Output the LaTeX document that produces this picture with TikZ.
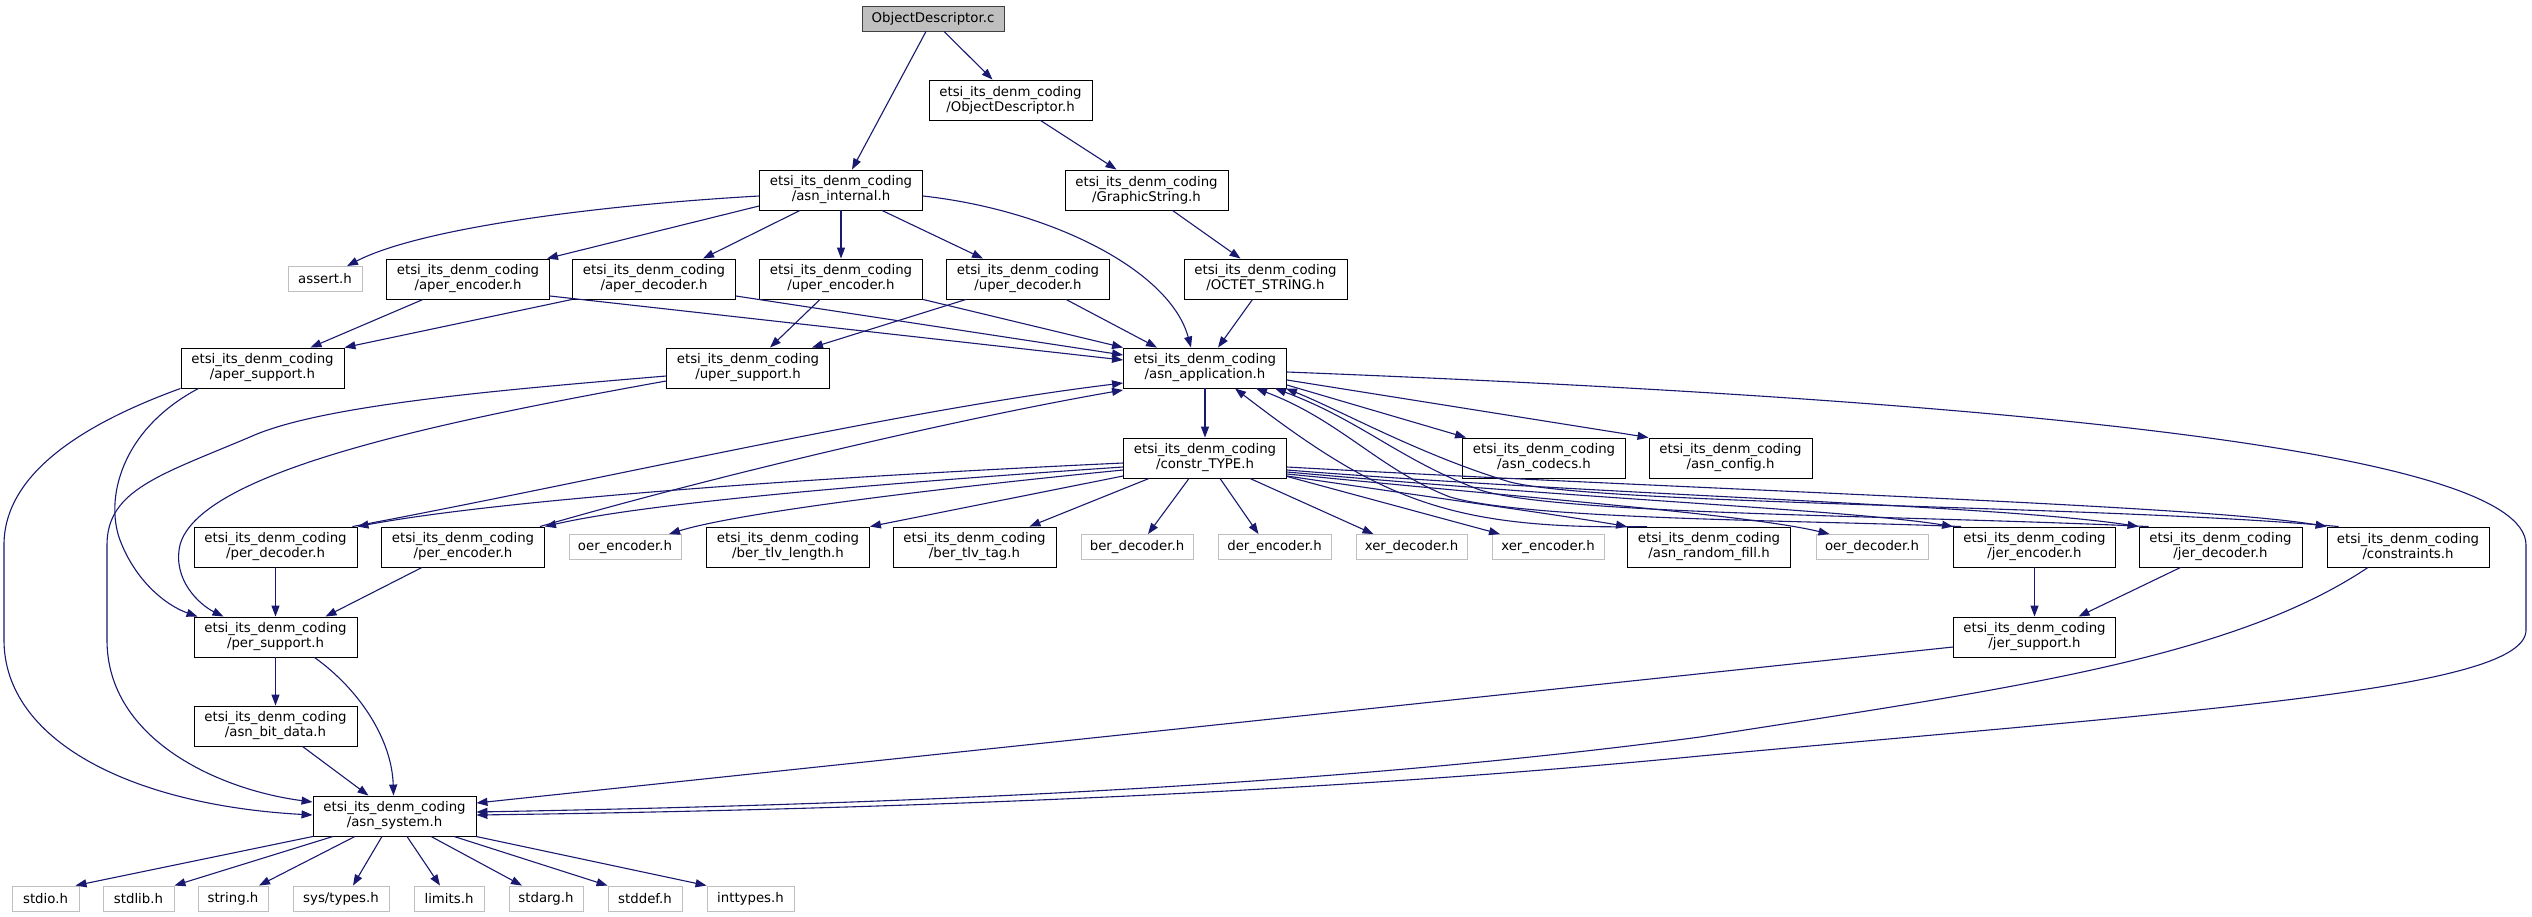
\documentclass[tikz,border=0pt]{standalone}
\usepackage{fontspec}
\setmainfont{DejaVu Sans}
\usetikzlibrary{arrows.meta,calc}
\definecolor{edgecol}{HTML}{191970}
\definecolor{sysgray}{HTML}{BFBFBF}
\definecolor{rootborder}{HTML}{404040}
\begin{document}
\begin{tikzpicture}[x=1pt,y=-1pt,
  font=\fontsize{13.3}{15}\selectfont,
  hdr/.style={draw=black, fill=white, line width=0.9pt, inner sep=0pt, align=center, minimum width=163pt, minimum height=40pt},
  sysh/.style={draw=sysgray, fill=white, line width=0.9pt, inner sep=0pt, minimum height=25pt},
  rootbox/.style={draw=rootborder, fill=sysgray, line width=0.9pt, inner sep=0pt, minimum height=25pt},
  edge/.style={draw=edgecol, line width=1.1pt, -{Triangle[length=11pt,width=8pt]}, edgecol}]
\fill[white] (0,0) rectangle (2532,916);
\useasboundingbox (0,0) rectangle (2532,916);
\def\ed{etsi\_its\_denm\_coding}
% row 0-2
\node[rootbox, minimum width=142pt] (odc) at (933,18.5) {ObjectDescriptor.c};
\node[hdr] (odh) at (1010.5,100) {\ed\\/ObjectDescriptor.h};
\node[hdr] (aint) at (841,190) {\ed\\/asn\_internal.h};
\node[hdr] (gstr) at (1146.5,190) {\ed\\/GraphicString.h};
% row 3
\node[sysh, minimum width=74pt] (assert) at (325,279) {assert.h};
\node[hdr] (aenc) at (468,279) {\ed\\/aper\_encoder.h};
\node[hdr] (adec) at (654,279) {\ed\\/aper\_decoder.h};
\node[hdr] (uenc) at (841,279) {\ed\\/uper\_encoder.h};
\node[hdr] (udec) at (1028,279) {\ed\\/uper\_decoder.h};
\node[hdr] (octet) at (1265.5,279) {\ed\\/OCTET\_STRING.h};
% row 4
\node[hdr] (asup) at (262.5,368) {\ed\\/aper\_support.h};
\node[hdr] (usup) at (748,368) {\ed\\/uper\_support.h};
\node[hdr] (aapp) at (1205,368) {\ed\\/asn\_application.h};
% row 5
\node[hdr] (ctype) at (1205,458) {\ed\\/constr\_TYPE.h};
\node[hdr] (codecs) at (1544,458) {\ed\\/asn\_codecs.h};
\node[hdr] (config) at (1730.5,458) {\ed\\/asn\_config.h};
% row 6
\node[hdr] (pdec) at (275.5,547) {\ed\\/per\_decoder.h};
\node[hdr] (penc) at (463,547) {\ed\\/per\_encoder.h};
\node[sysh, minimum width=112pt] (oenc) at (625,547) {oer\_encoder.h};
\node[hdr] (btlen) at (788,547) {\ed\\/ber\_tlv\_length.h};
\node[hdr] (btag) at (974.5,547) {\ed\\/ber\_tlv\_tag.h};
\node[sysh, minimum width=112pt] (bdec) at (1137,547) {ber\_decoder.h};
\node[sysh, minimum width=113pt] (denc) at (1274.5,547) {der\_encoder.h};
\node[sysh, minimum width=111pt] (xdec) at (1411.5,547) {xer\_decoder.h};
\node[sysh, minimum width=112pt] (xenc) at (1548,547) {xer\_encoder.h};
\node[hdr] (rfill) at (1709,547) {\ed\\/asn\_random\_fill.h};
\node[sysh, minimum width=112pt] (odec) at (1872,547) {oer\_decoder.h};
\node[hdr, minimum width=162pt] (jenc) at (2034.5,547) {\ed\\/jer\_encoder.h};
\node[hdr] (jdec) at (2220.5,547) {\ed\\/jer\_decoder.h};
\node[hdr, minimum width=162pt] (cons) at (2408,547) {\ed\\/constraints.h};
% rows 7-9
\node[hdr] (psup) at (275.5,637) {\ed\\/per\_support.h};
\node[hdr, minimum width=162pt] (jsup) at (2034.5,637) {\ed\\/jer\_support.h};
\node[hdr] (bitd) at (275.5,726) {\ed\\/asn\_bit\_data.h};
\node[hdr] (asys) at (394.5,816) {\ed\\/asn\_system.h};
% row 10
\node[sysh, minimum width=67pt] (stdio) at (45.5,898.5) {stdio.h};
\node[sysh, minimum width=71pt] (stdlib) at (138.5,898.5) {stdlib.h};
\node[sysh, minimum width=70pt] (string) at (233,898.5) {string.h};
\node[sysh, minimum width=96pt] (systypes) at (341,898.5) {sys/types.h};
\node[sysh, minimum width=70pt] (limits) at (449,898.5) {limits.h};
\node[sysh, minimum width=74pt] (stdarg) at (546,898.5) {stdarg.h};
\node[sysh, minimum width=74pt] (stddef) at (645,898.5) {stddef.h};
\node[sysh, minimum width=87pt] (inttypes) at (750.5,898.5) {inttypes.h};

% top edges
\draw[edge] ($(odc.south)+(-7,0)$) -- ($(aint.north)+(11,0)$);
\draw[edge] ($(odc.south)+(11,0)$) -- ($(odh.north)+(-18,0)$);
\draw[edge] ($(odh.south)+(30,0)$) -- ($(gstr.north)+(-30,0)$);
\draw[edge] ($(gstr.south)+(26,0)$) -- ($(octet.north)+(-25,0)$);
\draw[edge] ($(octet.south)+(-13,0)$) -- ($(aapp.north)+(13,0)$);
% asn_internal
\draw[edge] ($(aint.west)+(0,6)$) .. controls (600,205) and (420,228) .. ($(assert.north)+(22,0)$);
\draw[edge] ($(aint.west)+(0,16)$) -- ($(aenc.north east)+(-3,0)$);
\draw[edge] ($(aint.south)+(-41,0)$) -- ($(adec.north)+(49,0)$);
\draw[edge] (aint.south) -- (uenc.north);
\draw[edge] ($(aint.south)+(41,0)$) -- ($(udec.north)+(-45,0)$);
\draw[edge] ($(aint.east)+(0,6)$) .. controls (1050,210) and (1170,270) .. ($(aapp.north)+(-14,0)$);
% row 3 edges
\draw[edge] ($(aenc.south)+(-45,0)$) -- ($(asup.north)+(48,0)$);
\draw[edge] ($(aenc.east)+(0,17)$) -- ($(aapp.west)+(0,-8)$);
\draw[edge] (adec.south west) -- (asup.north east);
\draw[edge] ($(adec.east)+(0,17)$) -- ($(aapp.west)+(0,-13)$);
\draw[edge] ($(uenc.south)+(-21,0)$) -- ($(usup.north)+(22,0)$);
\draw[edge] (uenc.south east) -- (aapp.north west);
\draw[edge] ($(udec.south)+(-62,0)$) -- ($(usup.north east)+(-18,0)$);
\draw[edge] ($(udec.south)+(38,0)$) -- ($(aapp.north)+(-48,0)$);
% aper_support
\draw[edge] (asup.south west) .. controls (80,425) and (4,475) .. (4,545) -- (4,640) .. controls (4,740) and (130,805) .. ($(asys.west)+(0,-1)$);
\draw[edge] ($(asup.south west)+(18,0)$) .. controls (120,430) and (105,500) .. (120,540) .. controls (135,580) and (165,605) .. ($(psup.north west)+(4,0)$);
% uper_support
\draw[edge] ($(usup.west)+(0,8)$) .. controls (500,390) and (320,405) .. (250,437) .. controls (160,475) and (107,490) .. (107,545) -- (107,640) .. controls (107,740) and (220,790) .. ($(asys.west)+(0,-14)$);
\draw[edge] ($(usup.west)+(0,13)$) .. controls (450,420) and (200,470) .. (180,545) .. controls (172,580) and (200,605) .. ($(psup.north)+(-52,0)$);
% per
\draw[edge] (pdec.south) -- (psup.north);
\draw[edge] ($(penc.south)+(-41,0)$) -- ($(psup.north)+(50,0)$);
\draw[edge] (psup.south) -- (bitd.north);
\draw[edge] ($(psup.south)+(39,0)$) .. controls (360,690) and (392,740) .. ($(asys.north)+(-1,0)$);
\draw[edge] ($(bitd.south)+(27,0)$) -- ($(asys.north)+(-26,0)$);
\draw[edge] ($(pdec.north east)+(-5,0)$) .. controls (600,480) and (900,410) .. ($(aapp.west)+(0,15)$);
\draw[edge] ($(penc.north east)+(-5,0)$) .. controls (700,480) and (950,420) .. ($(aapp.west)+(0,22)$);
% asn_system
\draw[edge] ($(asys.south)+(-81.5,0)$) -- ($(stdio.north)+(30,0)$);
\draw[edge] ($(asys.south)+(-61.5,0)$) -- (stdlib.north east);
\draw[edge] ($(asys.south)+(-39.5,0)$) -- ($(string.north)+(26,0)$);
\draw[edge] ($(asys.south)+(-12.5,0)$) -- ($(systypes.north)+(12,0)$);
\draw[edge] ($(asys.south)+(12.5,0)$) -- ($(limits.north)+(-9,0)$);
\draw[edge] ($(asys.south)+(36.5,0)$) -- ($(stdarg.north)+(-24,0)$);
\draw[edge] ($(asys.south)+(59.5,0)$) -- (stddef.north west);
\draw[edge] ($(asys.south)+(81.5,0)$) -- (inttypes.north west);
% asn_application
\draw[edge] (aapp.south) -- (ctype.north);
\draw[edge] ($(aapp.east)+(0,17)$) -- ($(codecs.north west)+(4,0)$);
\draw[edge] ($(aapp.east)+(0,12)$) -- (config.north west);
\draw[edge] ($(aapp.east)+(0,4)$) .. controls (2000,400) and (2526,450) .. (2526,545) -- (2526,630) .. controls (2526,690) and (2200,710) .. (1700,756) .. controls (1300,795) and (850,810) .. ($(asys.east)+(0,-1)$);
% jer
\draw[edge] (jenc.south) -- (jsup.north);
\draw[edge] ($(jdec.south)+(-40,0)$) -- ($(jsup.north)+(44,0)$);
\draw[edge] ($(jsup.west)+(0,10)$) -- ($(asys.east)+(0,-13)$);
\draw[edge] ($(cons.south)+(-40,0)$) .. controls (2230,660) and (2000,690) .. (1700,737) .. controls (1300,790) and (850,805) .. ($(asys.east)+(0,-4)$);
% constr_TYPE
\draw[edge] ($(ctype.west)+(0,5)$) .. controls (800,478) and (500,500) .. (pdec.north east);
\draw[edge] ($(ctype.west)+(0,9)$) .. controls (900,482) and (650,502) .. (penc.north east);
\draw[edge] ($(ctype.west)+(0,12)$) .. controls (900,492) and (730,515) .. ($(oenc.north)+(44,0)$);
\draw[edge] ($(ctype.west)+(0,18)$) -- (btlen.north east);
\draw[edge] ($(ctype.south west)+(26,0)$) -- ($(btag.north)+(55,0)$);
\draw[edge] ($(ctype.south)+(-16,0)$) -- ($(bdec.north)+(11,0)$);
\draw[edge] ($(ctype.south)+(15,0)$) -- ($(denc.north)+(-16,0)$);
\draw[edge] ($(ctype.south)+(45,0)$) -- ($(xdec.north)+(-38,0)$);
\draw[edge] ($(ctype.south east)+(0,-2)$) -- ($(xenc.north)+(-48,0)$);
\draw[edge] ($(ctype.east)+(0,18)$) .. controls (1450,500) and (1560,515) .. (rfill.north west);
\draw[edge] ($(ctype.east)+(0,16)$) .. controls (1550,500) and (1750,515) .. ($(odec.north west)+(14,0)$);
\draw[edge] ($(ctype.east)+(0,14)$) .. controls (1600,500) and (1850,510) .. (jenc.north west);
\draw[edge] ($(ctype.east)+(0,12)$) .. controls (1600,495) and (2000,505) .. (jdec.north west);
\draw[edge] ($(ctype.east)+(0,9)$) .. controls (1700,490) and (2200,505) .. (cons.north west);
% back to asn_application
\draw[edge] ($(rfill.north west)+(20,0)$) .. controls (1450,530) and (1380,500) .. ($(aapp.south)+(30,0)$);
\draw[edge] ($(jenc.north west)+(8,0)$) .. controls (1800,520) and (1530,520) .. (1450,497) .. controls (1380,470) and (1340,420) .. ($(aapp.south)+(51,0)$);
\draw[edge] ($(jdec.north west)+(10,0)$) .. controls (1900,515) and (1560,515) .. (1480,490) .. controls (1400,460) and (1360,420) .. ($(aapp.south)+(70,0)$);
\draw[edge] ($(cons.north west)+(12,0)$) .. controls (2100,505) and (1600,505) .. (1510,482) .. controls (1420,455) and (1340,410) .. ($(aapp.south east)+(-1,0)$);
\end{tikzpicture}
\end{document}
